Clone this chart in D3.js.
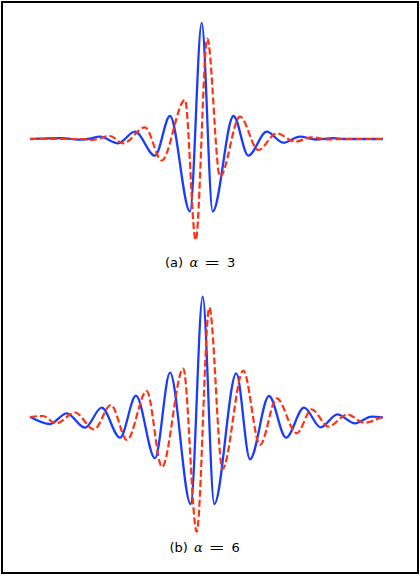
<!DOCTYPE html>
<html>
<head>
<meta charset="utf-8">
<script src="https://cdn.jsdelivr.net/npm/d3@7"></script>
<style>
  body { margin: 0; background: #fff; }
  svg { display: block; }
</style>
</head>
<body>
<svg id="chart" width="420" height="576"></svg>
<script>
// extrema: [t, amplitude]
let blueA = [[-8.6, 0], [-7.0, 0.008], [-6.2, -0.006], [-5.7, 0], [-5.1, 0.023], [-4.2, -0.043],
    [-3.35, 0.073], [-2.35, -0.167], [-1.6, 0.23], [-0.6, -0.725], [-0.015, 1.162], [0.535, -0.725],
    [1.575, 0.23], [2.315, -0.167], [3.235, 0.073], [4.065, -0.037], [4.9, 0.023], [5.7, -0.005],
    [6.55, 0.008], [7.15, 0], [9.05, 0]];
let redA = [[-8.6, 0], [-5.85, 0], [-5.5, -0.01], [-4.6, 0.03], [-3.935, -0.043], [-2.85, 0.117],
    [-2.015, -0.215], [-0.85, 0.39], [-0.315, -1.01], [0.265, 1.005], [0.9, -0.377], [1.9, 0.223],
    [2.815, -0.11], [3.735, 0.057], [4.65, -0.027], [5.485, 0.017], [6.3, -0.005], [7.15, 0], [9.05, 0]];
let blueB = [[-8.6, 0.003], [-7.6, -0.07], [-6.765, 0.037], [-5.85, -0.107], [-5.015, 0.093],
    [-4.1, -0.207], [-3.3, 0.213], [-2.35, -0.413], [-1.6, 0.443], [-0.565, -0.87], [0.035, 1.203],
    [0.615, -0.87], [1.715, 0.437], [2.4, -0.423], [3.35, 0.21], [4.2, -0.207], [5.1, 0.093],
    [5.935, -0.103], [6.765, 0.027], [7.65, -0.063], [8.485, 0.003], [9.05, -0.005]];
let redB = [[-8.6, 0], [-7.95, 0.01], [-7.3, -0.065], [-6.35, 0.045], [-5.4, -0.125], [-4.55, 0.12],
    [-3.75, -0.23], [-2.765, 0.26], [-2.0, -0.5], [-0.935, 0.485], [-0.265, -1.147], [0.365, 1.095],
    [1.025, -0.52], [2.065, 0.463], [2.9, -0.28], [3.735, 0.187], [4.735, -0.163], [5.485, 0.077],
    [6.315, -0.095], [7.275, 0.025], [8.1, -0.057], [9.05, 0.005]];
let captions = [["(a)", "3"], ["(b)", "6"]];

const svg = d3.select('#chart');

svg.append('rect')
    .attr('x', 2).attr('y', 2)
    .attr('width', 416).attr('height', 571)
    .attr('fill', 'none')
    .attr('stroke', '#000')
    .attr('stroke-width', 2);

const xScale = d3.scaleLinear().domain([-8.6, 9.05]).range([30, 383]);

let panels = [
    { blue: blueA, red: redA, y: d3.scaleLinear().domain([-1, 1]).range([239, 39]), cap: captions[0], capX: 165, capY: 267 },
    { blue: blueB, red: redB, y: d3.scaleLinear().domain([-1, 1]).range([517, 317]), cap: captions[1], capX: 169.5, capY: 551.5 }
];

panels.forEach(p => {
    let line = d3.line()
        .x(d => xScale(d[0]))
        .y(d => p.y(d[1]))
        .curve(d3.curveMonotoneX);

    svg.append('path')
        .attr('d', line(p.blue))
        .attr('fill', 'none')
        .attr('stroke', '#1a3cff')
        .attr('stroke-width', 2.3);

    svg.append('path')
        .attr('d', line(p.red))
        .attr('fill', 'none')
        .attr('stroke', '#ff3214')
        .attr('stroke-width', 2.2)
        .attr('stroke-dasharray', '7,3');

    // caption pieces
    let g = svg.append('g')
        .attr('font-family', 'DejaVu Sans, sans-serif')
        .attr('font-size', 13)
        .attr('fill', '#000');
    g.append('text').attr('x', p.capX).attr('y', p.capY).text(p.cap[0]);
    g.append('text').attr('x', p.capX + 24.5).attr('y', p.capY)
        .attr('font-family', 'DejaVu Serif, serif').attr('font-style', 'italic').text('α');
    g.append('text')
        .attr('transform', `translate(${p.capX + 39},${p.capY}) scale(1.5,1)`)
        .text('=');
    g.append('text').attr('x', p.capX + 62).attr('y', p.capY).text(p.cap[1]);
});
</script>
</body>
</html>
